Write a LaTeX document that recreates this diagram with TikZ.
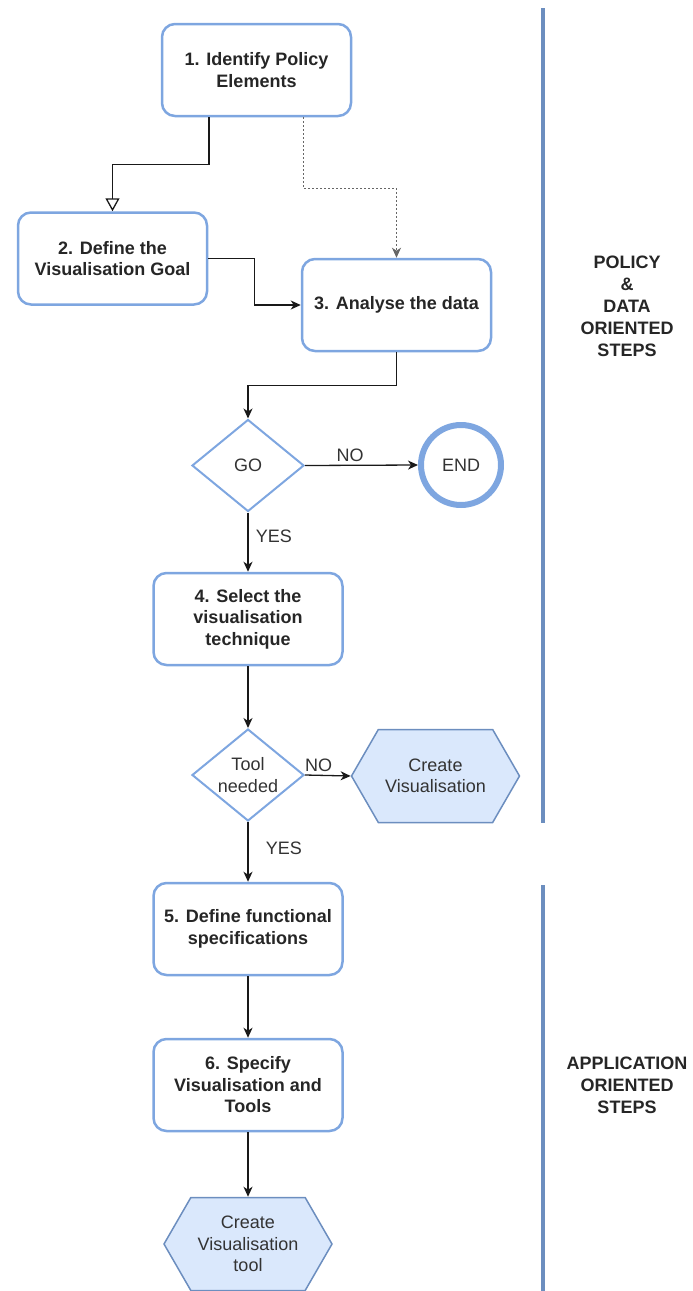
\documentclass[tikz,border=0pt]{standalone}
\usepackage{fontspec}
\setmainfont{Liberation Sans}
\usetikzlibrary{arrows.meta,shapes.geometric,shapes.symbols}
\definecolor{boxblue}{HTML}{7EA6E0}
\definecolor{hexfill}{HTML}{DAE8FC}
\definecolor{hexline}{HTML}{6C8EBF}
\definecolor{txtgray}{HTML}{333333}
\newcommand{\flowfont}{\fontsize{18}{21.5}\selectfont}
\tikzset{>={Stealth[length=10pt,width=9pt,inset=3pt]}}
\tikzset{
  stepbox/.style={draw=boxblue, line width=2.5pt, rounded corners=13pt,
    minimum width=189pt, minimum height=92pt, align=center,
    font=\flowfont\bfseries, text=black!85},
  decision/.style={diamond, draw=boxblue, line width=2pt, minimum width=112pt,
    minimum height=92pt, inner sep=0pt, aspect=1.2, align=center,
    font=\flowfont, text=txtgray},
  terminal/.style={circle, draw=boxblue, line width=6pt, minimum size=80pt,
    font=\flowfont, text=txtgray},
  output/.style={signal, signal to=east and west, signal pointer angle=120,
    draw=hexline, fill=hexfill, line width=1.5pt, minimum width=168pt,
    minimum height=93pt, inner sep=0pt, align=center, font=\flowfont, text=txtgray},
  flow/.style={->, line width=1.3pt, black!90},
  flowlabel/.style={font=\flowfont, text=txtgray},
  phase/.style={align=center, font=\fontsize{18}{22}\selectfont\bfseries, text=black!85},
  phaseline/.style={draw=hexline, line width=4pt}
}

\begin{document}
\begin{tikzpicture}[x=1pt, y=-1pt]
\useasboundingbox (0,0) rectangle (693,1291);
% policy and data steps:
\node[stepbox] (b1) at (256.5,70) {1. Identify Policy\\Elements};
\node[stepbox] (b2) at (112.5,258.5) {2. Define the\\Visualisation Goal};
\node[stepbox] (b3) at (396.5,305) {3. Analyse the data};
\node[decision] (go) at (248,465.5) {GO};
\node[terminal] (end) at (461,465) {END};
\node[stepbox] (b4) at (248,619) {4. Select the\\visualisation\\technique};
\node[decision] (tool) at (248,775) {Tool\\needed};
\node[output] (cv) at (435.5,776) {Create\\Visualisation};
% application steps:
\node[stepbox] (b5) at (248,929) {5. Define functional\\specifications};
\node[stepbox] (b6) at (248,1085) {6. Specify\\Visualisation and\\Tools};
\node[output] (cvt) at (248,1244) {Create\\Visualisation\\tool};
%% connectors:
\draw[flow, -{Triangle[open,length=13pt,width=14pt]}] ([xshift=-47.5pt]b1.south) -- ++(0,47) -| (b2.north);
\draw[flow, line width=0.8pt, black!60, dash pattern=on 2pt off 2pt] ([xshift=46.5pt]b1.south) -- ++(0,71) -| (b3.north);
\draw[flow] (b2.east) -- ++(46,0) |- (b3.west);
\draw[flow] (b3.south) -- ++(0,33) -| (go.north);
\draw[flow] (go.east) -- (end.west) node[flowlabel, pos=0.4, above] {NO};
\draw[flow] (go.south) -- (b4.north) node[flowlabel, midway, right, xshift=4pt, yshift=6pt] {YES};
\draw[flow] (b4.south) -- (tool.north);
\draw[flow] (tool.east) -- (cv.west) node[flowlabel, pos=0.3, above] {NO};
\draw[flow] (tool.south) -- (b5.north) node[flowlabel, midway, right, xshift=14pt, yshift=4pt] {YES};
\draw[flow] (b5.south) -- (b6.north);
\draw[flow] (b6.south) -- (cvt.north);
%% phases:
\draw[phaseline] (543,8) -- (543,823);
\draw[phaseline] (543,885) -- (543,1291);
\node[phase] (pd) at (627,306) {POLICY\\\&\\DATA\\ORIENTED\\STEPS};
\node[phase] (ao) at (627,1085) {APPLICATION\\ORIENTED\\STEPS};
\end{tikzpicture}
\end{document}
